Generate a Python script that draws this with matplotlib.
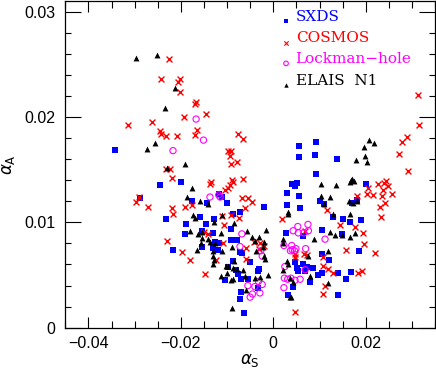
import numpy as np
import matplotlib
matplotlib.use('Agg')
import matplotlib.pyplot as plt
from matplotlib.ticker import MultipleLocator

# SXDS (blue squares)
sxds_x = [-0.0342, -0.0245, -0.0199, -0.0289, -0.0175, -0.0233, -0.0218, -0.0143, -0.0118, -0.0112,
          -0.0100, -0.0159, -0.0188, -0.0190, -0.0128, -0.0145, -0.0087, -0.0073, -0.0091, -0.0131,
          -0.0155, -0.0154, -0.0126, -0.0131, -0.0117, -0.0120, -0.0091, -0.0079, -0.0072, -0.0067,
          -0.0020, -0.0099, -0.0087, -0.0080, -0.0105, -0.0077, -0.0069, -0.0055, -0.0050, -0.0030,
          -0.0032, -0.0070, -0.0071, -0.0063, -0.0034,
          0.0041, 0.0051, 0.0030, 0.0056, 0.0029, 0.0057, 0.0101, 0.0109, 0.0130, 0.0150,
          0.0165, 0.0189, 0.0200, 0.0171, 0.0181, 0.0055, 0.0092, 0.0056, 0.0090, 0.0137,
          0.0093, 0.0028, 0.0065, 0.0105, 0.0106, 0.0120, 0.0047, 0.0052, 0.0054, 0.0064,
          0.0069, 0.0074, 0.0087, 0.0097, 0.0106, 0.0079, 0.0139, 0.0157, 0.0168, 0.0185,
          0.0139, 0.0043, 0.0032, 0.0148, 0.0046]
sxds_y = [0.0169, 0.0135, 0.0138, 0.0123, 0.0120, 0.0103, 0.0074, 0.0118, 0.0127, 0.0124,
          0.0118, 0.0105, 0.0098, 0.0089, 0.0103, 0.0098, 0.0108, 0.0110, 0.0094, 0.0090,
          0.0092, 0.0077, 0.0081, 0.0076, 0.0080, 0.0074, 0.0083, 0.0083, 0.0072, 0.0071,
          0.0115, 0.0058, 0.0063, 0.0055, 0.0045, 0.0051, 0.0046, 0.0046, 0.0062, 0.0056,
          0.0054, 0.0034, 0.0027, 0.0014, 0.0038,
          0.0136, 0.0137, 0.0128, 0.0125, 0.0116, 0.0114, 0.0120, 0.0117, 0.0105, 0.0103,
          0.0100, 0.0102, 0.0136, 0.0118, 0.0121, 0.0172, 0.0176, 0.0162, 0.0164, 0.0160,
          0.0146, 0.0090, 0.0087, 0.0093, 0.0070, 0.0064, 0.0062, 0.0057, 0.0054, 0.0060,
          0.0054, 0.0058, 0.0057, 0.0050, 0.0052, 0.0043, 0.0052, 0.0046, 0.0053, 0.0073,
          0.0031, 0.0039, 0.0031, 0.0089, 0.0134]

# COSMOS (red crosses)
cosmos_x = [-0.0226, -0.0243, -0.0206, -0.0201, -0.0201, -0.0167, -0.0169, -0.0193, -0.0315, -0.0263,
            -0.0246, -0.0242, -0.0232, -0.0209, -0.0170, -0.0164, -0.0232, -0.0223, -0.0219, -0.0290,
            -0.0297, -0.0271, -0.0220, -0.0217, -0.0192, -0.0175, -0.0145, -0.0077, -0.0065, -0.0099,
            -0.0092, -0.0094, -0.0092, -0.0079, -0.0134, -0.0136, -0.0090, -0.0088, -0.0094, -0.0099,
            -0.0104, -0.0065, -0.0068, -0.0054, -0.0045, -0.0061, -0.0110, -0.0107, -0.0092, -0.0074,
            -0.0149, -0.0141, -0.0230, -0.0198, -0.0181, -0.0147, -0.0108, -0.0123, -0.0058, -0.0059,
            -0.0041, -0.0029, -0.0020, -0.0030,
            0.0313, 0.0316, 0.0290, 0.0278, 0.0272, 0.0292, 0.0227, 0.0240, 0.0243, 0.0206,
            0.0203, 0.0215, 0.0238, 0.0249, 0.0235, 0.0256, 0.0181, 0.0242, 0.0230, 0.0233,
            0.0177, 0.0195, 0.0196, 0.0157, 0.0220, 0.0183, 0.0192, 0.0144, 0.0116, 0.0019,
            0.0069, 0.0066, 0.0047, 0.0046, 0.0107, 0.0107, 0.0118, 0.0130, 0.0112, 0.0108,
            0.0047, 0.0073]
cosmos_y = [0.0255, 0.0236, 0.0233, 0.0236, 0.0224, 0.0214, 0.0212, 0.0200, 0.0192, 0.0195,
            0.0187, 0.0184, 0.0182, 0.0182, 0.0183, 0.0188, 0.0151, 0.0151, 0.0142, 0.0124,
            0.0119, 0.0115, 0.0114, 0.0108, 0.0115, 0.0116, 0.0203, 0.0184, 0.0179, 0.0168,
            0.0168, 0.0163, 0.0155, 0.0157, 0.0138, 0.0136, 0.0140, 0.0138, 0.0135, 0.0133,
            0.0131, 0.0141, 0.0123, 0.0123, 0.0119, 0.0114, 0.0106, 0.0097, 0.0107, 0.0104,
            0.0091, 0.0089, 0.0082, 0.0072, 0.0064, 0.0051, 0.0080, 0.0064, 0.0076, 0.0065,
            0.0081, 0.0080, 0.0078, 0.0075,
            0.0221, 0.0192, 0.0181, 0.0176, 0.0165, 0.0149, 0.0136, 0.0137, 0.0139, 0.0133,
            0.0127, 0.0126, 0.0131, 0.0134, 0.0125, 0.0127, 0.0125, 0.0118, 0.0115, 0.0105,
            0.0096, 0.0090, 0.0079, 0.0074, 0.0071, 0.0052, 0.0054, 0.0097, 0.0112, 0.0103,
            0.0092, 0.0070, 0.0070, 0.0067, 0.0067, 0.0059, 0.0056, 0.0052, 0.0040, 0.0032,
            0.0015, 0.0069]

# Lockman-hole (magenta open circles)
lockman_x = [-0.0167, -0.0151, -0.0217, -0.0137, -0.0118, -0.0115, -0.0068, -0.0072, -0.0027, -0.0024,
             -0.0032, -0.0024, -0.0040, -0.0055, -0.0045, -0.0050, -0.0029,
             0.0053, 0.0075, 0.0043, 0.0054, 0.0066, 0.0076, 0.0112, 0.0023, 0.0040, 0.0037,
             0.0041, 0.0046, 0.0049, 0.0070, 0.0069, 0.0024, 0.0031, 0.0038, 0.0047, 0.0058,
             0.0023, 0.0025]
lockman_y = [0.0198, 0.0178, 0.0168, 0.0124, 0.0126, 0.0124, 0.0089, 0.0077, 0.0073, 0.0068,
             0.0044, 0.0041, 0.0039, 0.0040, 0.0032, 0.0029, 0.0033,
             0.0096, 0.0098, 0.0092, 0.0090, 0.0090, 0.0092, 0.0084, 0.0078, 0.0078, 0.0073,
             0.0074, 0.0073, 0.0075, 0.0075, 0.0055, 0.0047, 0.0046, 0.0047, 0.0045, 0.0046,
             0.0038, 0.0058]

# ELAIS N1 (black triangles)
elais_x = [-0.0297, -0.0252, -0.0212, -0.0234, -0.0273, -0.0257, -0.0230, -0.0191, -0.0175, -0.0187,
           -0.0173, -0.0158, -0.0141, -0.0169, -0.0111, -0.0128, -0.0084, -0.0180, -0.0162, -0.0154,
           -0.0155, -0.0157, -0.0166, -0.0141, -0.0136, -0.0126, -0.0131, -0.0130, -0.0128, -0.0130,
           -0.0114, -0.0110, -0.0089, -0.0056, -0.0016, -0.0047, -0.0040, -0.0030, -0.0020, -0.0038,
           -0.0020, -0.0019, -0.0022, -0.0102, -0.0097, -0.0113, -0.0084, -0.0088, -0.0078, -0.0092,
           -0.0087, -0.0100, -0.0065, -0.0062, -0.0040, -0.0028, -0.0011, -0.0059, -0.0089,
           0.0103, 0.0135, 0.0165, 0.0168, 0.0171, 0.0175, 0.0196, 0.0198, 0.0202, 0.0207,
           0.0219, 0.0180, 0.0103, 0.0110, 0.0123, 0.0130, 0.0164, 0.0172, 0.0181, 0.0166,
           0.0123, 0.0134, 0.0148, 0.0165, 0.0177, 0.0032, 0.0032, 0.0021, 0.0020, 0.0089,
           0.0075, 0.0118, 0.0030, 0.0031, 0.0020, 0.0079, 0.0037, 0.0043, 0.0036, 0.0038,
           0.0118]
elais_y = [0.0256, 0.0259, 0.0227, 0.0208, 0.0170, 0.0175, 0.0152, 0.0155, 0.0133, 0.0124,
           0.0107, 0.0120, 0.0117, 0.0104, 0.0107, 0.0100, 0.0099, 0.0092, 0.0089, 0.0091,
           0.0085, 0.0080, 0.0074, 0.0084, 0.0081, 0.0080, 0.0073, 0.0068, 0.0064, 0.0060,
           0.0090, 0.0073, 0.0077, 0.0092, 0.0093, 0.0086, 0.0082, 0.0086, 0.0081, 0.0073,
           0.0068, 0.0065, 0.0077, 0.0059, 0.0059, 0.0049, 0.0063, 0.0057, 0.0056, 0.0045,
           0.0046, 0.0052, 0.0055, 0.0049, 0.0047, 0.0048, 0.0050, 0.0036, 0.0019,
           0.0136, 0.0135, 0.0138, 0.0140, 0.0141, 0.0139, 0.0171, 0.0163, 0.0157, 0.0178,
           0.0175, 0.0159, 0.0125, 0.0117, 0.0124, 0.0108, 0.0120, 0.0118, 0.0120, 0.0108,
           0.0091, 0.0088, 0.0088, 0.0086, 0.0090, 0.0110, 0.0108, 0.0084, 0.0080, 0.0084,
           0.0068, 0.0073, 0.0063, 0.0060, 0.0055, 0.0049, 0.0047, 0.0043, 0.0029, 0.0029,
           0.0042]

labels = ['SXDS', 'COSMOS', 'Lockman\u2212hole', 'ELAIS  N1']
colors = ['#0000ff', '#ff0000', '#ff00ff', '#000000']

fig = plt.figure(figsize=(4.36, 3.69), dpi=100)
ax = fig.add_axes([0.1498, 0.1119, 0.848, 0.8854])

ax.scatter(sxds_x, sxds_y, marker='s', s=14, c=colors[0], linewidths=0, zorder=3)
ax.scatter(cosmos_x, cosmos_y, marker='x', s=18, c=colors[1], linewidths=1.0, zorder=3)
ax.scatter(lockman_x, lockman_y, marker='o', s=20, facecolors='none', edgecolors=colors[2],
           linewidths=0.8, zorder=3)
ax.scatter(elais_x, elais_y, marker='^', s=18, c=colors[3], linewidths=0, zorder=3)

# legend drawn by hand, pgplot style
leg_y = [0.952, 0.886, 0.822, 0.755]
ax.scatter([0.597], [0.938], marker='s', s=8, c=colors[0], linewidths=0, transform=ax.transAxes)
ax.scatter([0.597], [0.872], marker='x', s=10, c=colors[1], linewidths=0.8, transform=ax.transAxes)
ax.scatter([0.597], [0.809], marker='o', s=11, facecolors='none', edgecolors=colors[2],
           linewidths=0.8, transform=ax.transAxes)
ax.scatter([0.597], [0.743], marker='^', s=10, c=colors[3], linewidths=0, transform=ax.transAxes)
for lab, col, yy in zip(labels, colors, leg_y):
    ax.text(0.623, yy, lab, color=col, fontsize=11, family='DejaVu Serif',
            transform=ax.transAxes, ha='left', va='center')

ax.set_xlim(-0.045, 0.035)
ax.set_ylim(0, 0.031)
ax.xaxis.set_minor_locator(MultipleLocator(0.005))
ax.yaxis.set_minor_locator(MultipleLocator(0.002))
ax.set_xticks([-0.04, -0.02, 0, 0.02])
ax.set_xticklabels(['\u22120.04', '\u22120.02', '0', '0.02'])
ax.set_yticks([0, 0.01, 0.02, 0.03])
ax.set_yticklabels(['0', '0.01', '0.02', '0.03'])

ax.tick_params(axis='both', which='both', direction='in', top=True, right=True, width=0.8,
               labelsize=11.5)
ax.tick_params(axis='x', which='major', length=7.7, pad=6)
ax.tick_params(axis='x', which='minor', length=4.8)
ax.tick_params(axis='y', which='major', length=11.5, pad=7)
ax.tick_params(axis='y', which='minor', length=4.6)
for lab in ax.get_xticklabels() + ax.get_yticklabels():
    lab.set_family('Liberation Sans')
for sp in ax.spines.values():
    sp.set_linewidth(0.9)

ax.set_xlabel(r'$\alpha_{\rm S}$', fontsize=12)
ax.set_ylabel(r'$\alpha_{\rm A}$', fontsize=12)
ax.xaxis.label.set_va('center')
ax.yaxis.label.set_va('center')
ax.xaxis.set_label_coords(0.5, -0.100)
ax.yaxis.set_label_coords(-0.155, 0.5)

fig.savefig('out.png', dpi=100)
